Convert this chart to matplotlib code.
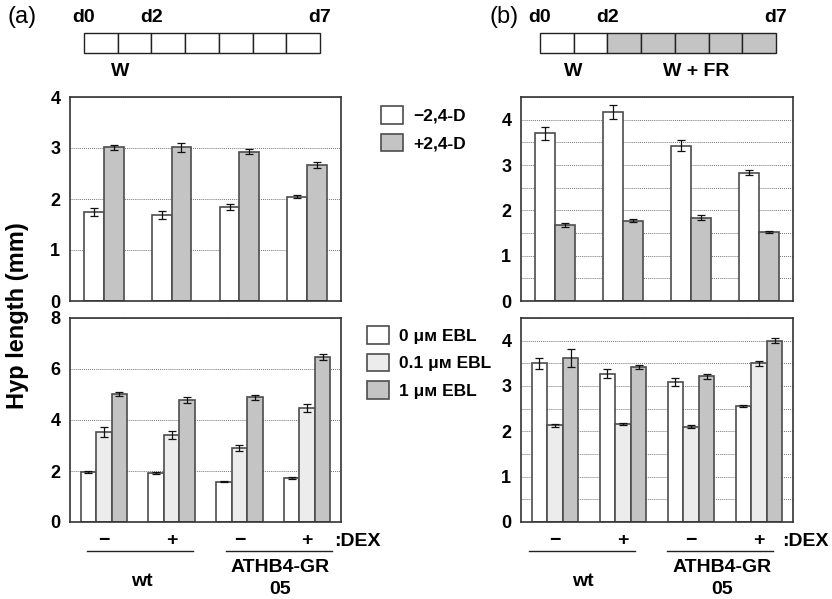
import numpy as np
import matplotlib.pyplot as plt
from matplotlib.patches import Rectangle
from matplotlib.transforms import blended_transform_factory

plt.rcParams['font.family'] = ['Liberation Sans', 'DejaVu Sans']
plt.rcParams['font.weight'] = 'bold'

# ---- data (mm) ----
groups = ['wt -', 'wt +', 'ATHB4 -', 'ATHB4 +']
dex_signs = ['\u2212', '+', '\u2212', '+']

# (a) top: 2,4-D
a_top_minus = [1.75, 1.69, 1.84, 2.04]
a_top_minus_err = [0.08, 0.08, 0.06, 0.03]
a_top_plus = [3.01, 3.01, 2.93, 2.67]
a_top_plus_err = [0.05, 0.08, 0.05, 0.06]

# (a) bottom: EBL
a_bot_0 = [1.96, 1.92, 1.58, 1.73]
a_bot_0_err = [0.03, 0.03, 0.03, 0.03]
a_bot_01 = [3.52, 3.40, 2.90, 4.47]
a_bot_01_err = [0.20, 0.15, 0.12, 0.17]
a_bot_1 = [5.03, 4.80, 4.89, 6.47]
a_bot_1_err = [0.08, 0.12, 0.10, 0.13]

# (b) top: W + FR, 2,4-D
b_top_minus = [3.70, 4.17, 3.43, 2.83]
b_top_minus_err = [0.14, 0.15, 0.12, 0.05]
b_top_plus = [1.68, 1.77, 1.84, 1.53]
b_top_plus_err = [0.04, 0.03, 0.05, 0.02]

# (b) bottom: W + FR, EBL
b_bot_0 = [3.50, 3.27, 3.09, 2.56]
b_bot_0_err = [0.12, 0.10, 0.08, 0.03]
b_bot_01 = [2.13, 2.16, 2.10, 3.50]
b_bot_01_err = [0.04, 0.03, 0.03, 0.06]
b_bot_1 = [3.62, 3.42, 3.21, 4.00]
b_bot_1_err = [0.20, 0.05, 0.05, 0.05]

d24_labels = ['\u22122,4-D', '+2,4-D']
ebl_labels = ['0 \u03bc\u1d0d EBL', '0.1 \u03bc\u1d0d EBL', '1 \u03bc\u1d0d EBL']

WHITE = '#ffffff'
LIGHT = '#ececec'
GRAY = '#c4c4c4'
EDGE = '#4d4d4d'

W, H = 832, 599
fig = plt.figure(figsize=(W / 100, H / 100), dpi=100)


def px_axes(l, t, r, b):
    return fig.add_axes([l / W, 1 - b / H, (r - l) / W, (b - t) / H])


def bars(ax, series, errs, colors, width):
    x = np.arange(len(groups))
    n = len(series)
    handles = []
    for i, (vals, e, c) in enumerate(zip(series, errs, colors)):
        off = (i - (n - 1) / 2) * width
        h = ax.bar(x + off, vals, width, yerr=e, color=c, edgecolor=EDGE,
                   linewidth=1.2, zorder=2,
                   error_kw=dict(ecolor='#111111', elinewidth=0.9, capsize=3, capthick=0.9))
        handles.append(h)
    ax.set_xlim(-0.5, 3.5)
    ax.set_xticks([])
    for s in ax.spines.values():
        s.set_color('#333333')
        s.set_linewidth(1.2)
    ax.tick_params(axis='y', length=0, labelsize=13, pad=7)
    ax.yaxis.grid(True, which='both', linestyle=(0, (1, 1)), color='#777777', linewidth=0.7)
    ax.set_axisbelow(True)
    return handles


def style_y(ax, top, major, minor=None):
    ax.set_ylim(0, top)
    ax.set_yticks(major)
    ax.set_yticklabels([str(v) for v in major], fontweight='bold')
    if minor is not None:
        ax.set_yticks(minor, minor=True)
        ax.tick_params(axis='y', which='minor', length=0)


# panel (a)
ax1 = px_axes(70, 97, 341, 301)
h1 = bars(ax1, [a_top_minus, a_top_plus], [a_top_minus_err, a_top_plus_err], [WHITE, GRAY], 0.29)
style_y(ax1, 4, [0, 1, 2, 3, 4])

ax2 = px_axes(70, 318, 341, 522)
h2 = bars(ax2, [a_bot_0, a_bot_01, a_bot_1], [a_bot_0_err, a_bot_01_err, a_bot_1_err],
          [WHITE, LIGHT, GRAY], 0.23)
style_y(ax2, 8, [0, 2, 4, 6, 8])

# panel (b)
ax3 = px_axes(521, 97, 793, 301)
bars(ax3, [b_top_minus, b_top_plus], [b_top_minus_err, b_top_plus_err], [WHITE, GRAY], 0.29)
style_y(ax3, 4.5, [0, 1, 2, 3, 4], [0.5, 1.5, 2.5, 3.5, 4.5])

ax4 = px_axes(521, 318, 793, 522)
bars(ax4, [b_bot_0, b_bot_01, b_bot_1], [b_bot_0_err, b_bot_01_err, b_bot_1_err],
     [WHITE, LIGHT, GRAY], 0.23)
style_y(ax4, 4.5, [0, 1, 2, 3, 4], [0.5, 1.5, 2.5, 3.5, 4.5])

# legends
leg_kw = dict(loc='upper left', frameon=False, fontsize=12.5, borderpad=0, borderaxespad=0,
              handlelength=1.25, handleheight=1.2, handletextpad=0.6, labelspacing=0.55)
ax1.legend([h[0] for h in h1], d24_labels, bbox_to_anchor=(1.148, 0.955), **leg_kw)
ax2.legend([h[0] for h in h2], ebl_labels, bbox_to_anchor=(1.096, 0.96), **leg_kw)

# overlay for schematics and group labels
ov = fig.add_axes([0, 0, 1, 1])
ov.set_xlim(0, W)
ov.set_ylim(H, 0)
ov.axis('off')

n_days = 7


def timeline(x0, x1, n_white, labels):
    cw = (x1 - x0) / n_days
    for i in range(n_days):
        c = WHITE if i < n_white else GRAY
        ov.add_patch(Rectangle((x0 + i * cw, 33), cw, 20, facecolor=c,
                               edgecolor='#222222', linewidth=1.0))
    for d, lab in [(0, 'd0'), (2, 'd2'), (7, 'd7')]:
        ov.text(x0 + d * cw, 18, lab, ha='center', va='center', fontsize=14, fontweight='bold')
    for xc, lab in labels:
        ov.text(xc, 72, lab, ha='center', va='center', fontsize=14, fontweight='bold')


timeline(84, 320, 7, [(120, 'W')])
timeline(540, 776, 2, [(573, 'W'), (696, 'W + FR')])

ov.text(22, 17, '(a)', ha='center', va='center', fontsize=17, fontweight='normal')
ov.text(504, 17, '(b)', ha='center', va='center', fontsize=17, fontweight='normal')

ov.text(18, 316, 'Hyp length (mm)', rotation=90, ha='center', va='center',
        fontsize=17, fontweight='bold')

# group labels under bottom axes
for ax, dex_x, lines, wt_x, ath_x in [
        (ax2, 334, [(87, 193), (226, 332)], 142, 280),
        (ax4, 782, [(529, 635), (667, 773)], 583, 722)]:
    tr = blended_transform_factory(ax.transData, ov.transData)
    for i, s in enumerate(dex_signs):
        ov.text(i, 541, s, transform=tr, ha='center', va='center', fontsize=14, fontweight='bold')
    ov.text(dex_x, 541, ':DEX', ha='left', va='center', fontsize=14, fontweight='bold')
    for l, r in lines:
        ov.plot([l, r], [551, 551], color='#222222', linewidth=1.0)
    ov.text(wt_x, 581, 'wt', ha='center', va='center', fontsize=14, fontweight='bold')
    ov.text(ath_x, 567, 'ATHB4-GR', ha='center', va='center', fontsize=14, fontweight='bold')
    ov.text(ath_x, 590, '05', ha='center', va='center', fontsize=14, fontweight='bold')

fig.savefig('out.png', dpi=100)
